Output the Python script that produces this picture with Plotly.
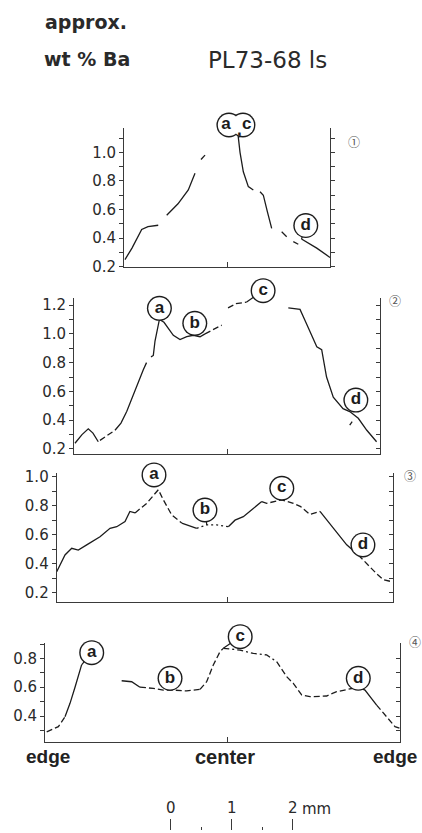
import plotly.graph_objects as go

# ------------------------------------------------------------------
# DATA
# x = distance along the traverse from the left edge (mm), y = approx. wt % Ba
# None separates pen segments of the traced profile
# ------------------------------------------------------------------
p1_x = [0.016, 0.131, 0.29, 0.393, 0.561, None,
        0.70, 0.885, 1.054, 1.164, None,
        1.262, 1.328, None,
        1.87, 1.902, 1.956, 2.038, 2.12, None,
        2.23, 2.284, 2.35, 2.421, None,
        2.585, 2.667, None,
        2.775, 2.857, None,
        2.91, 3.16, 3.377]
p1_y = [0.25, 0.33, 0.46, 0.48, 0.49, None,
        0.56, 0.64, 0.737, 0.853, None,
        0.95, 0.98, None,
        1.12, 1.0, 0.864, 0.76, 0.737, None,
        0.724, 0.70, 0.585, 0.468, None,
        0.445, 0.41, None,
        0.375, 0.357, None,
        0.394, 0.33, 0.265]

p2_x = [0.016, 0.131, 0.234, 0.311, 0.398, None,
        0.426, 0.557, 0.672, None,
        0.672, 0.77, 0.864, 0.918, 1.016, 1.136, 1.189, None,
        1.262, 1.30, 1.328, 1.366, 1.40, 1.475, 1.525, 1.628, 1.738, 1.848, 1.956, 2.066, 2.148, None,
        2.148, 2.284, 2.421, None,
        2.525, 2.656, 2.83, None,
        3.513, 3.705, 3.80, 3.90, 3.98, 4.06, 4.14, 4.25, 4.41, 4.52, 4.66, 4.80, 4.93, 4.96, None,
        4.52, 4.56]
p2_y = [0.24, 0.30, 0.34, 0.31, 0.25, None,
        0.26, 0.30, 0.33, None,
        0.33, 0.38, 0.46, 0.52, 0.63, 0.75, 0.80, None,
        0.84, 0.85, 0.95, 1.045, 1.10, 1.08, 1.05, 0.99, 0.96, 0.98, 0.99, 0.98, 1.0, None,
        1.0, 1.03, 1.06, None,
        1.18, 1.21, 1.22, None,
        1.18, 1.17, 1.08, 0.98, 0.91, 0.89, 0.70, 0.56, 0.48, 0.46, 0.413, 0.33, 0.26, 0.25, None,
        0.365, 0.39]

p3_x = [0.0, 0.136, 0.246, 0.354, 0.492, 0.71, 0.874, 0.984, 1.12, 1.20, 1.284, None,
        1.284, 1.475, 1.666, 1.748, 1.885, 2.05, None,
        2.05, 2.295, None,
        2.295, 2.459, 2.623, 2.813, None,
        2.813, 2.923, 3.059, 3.223, 3.361, None,
        3.361, 3.443, 3.689, 3.879, 4.0, 4.15, 4.316, None,
        4.316, 4.534, 4.754, 4.944, None,
        4.944, 5.082, 5.246, 5.354, 5.492]
p3_y = [0.345, 0.46, 0.506, 0.494, 0.53, 0.586, 0.644, 0.655, 0.69, 0.76, 0.75, None,
        0.75, 0.816, 0.91, 0.84, 0.736, 0.68, None,
        0.68, 0.644, None,
        0.644, 0.667, 0.667, 0.655, None,
        0.655, 0.70, 0.724, 0.78, 0.828, None,
        0.828, 0.816, 0.84, 0.816, 0.793, 0.74, 0.76, None,
        0.76, 0.645, 0.53, 0.46, None,
        0.46, 0.40, 0.33, 0.29, 0.276]

p4_x = [0.028, 0.219, 0.328, None,
        0.328, 0.41, 0.492, 0.574, 0.60, None,
        1.257, 1.421, 1.557, None,
        1.557, 1.776, 1.94, 2.104, 2.323, 2.541, None,
        2.541, 2.65, 2.759, 2.868, 2.923, None,
        2.923, 3.197, 3.415, 3.634, 3.798, None,
        3.798, 3.962, 4.071, 4.208, 4.344, 4.617, 4.781, 4.918, 5.136, None,
        5.136, 5.246, 5.437, None,
        5.437, 5.546, 5.738, 5.82]
p4_y = [0.29, 0.326, 0.395, None,
        0.395, 0.488, 0.60, 0.73, 0.755, None,
        0.645, 0.638, 0.60, None,
        0.60, 0.592, 0.58, 0.58, 0.574, 0.585, None,
        0.585, 0.638, 0.754, 0.846, 0.87, None,
        0.87, 0.858, 0.835, 0.824, 0.777, None,
        0.777, 0.673, 0.627, 0.546, 0.534, 0.539, 0.569, 0.58, 0.60, None,
        0.60, 0.58, 0.476, None,
        0.476, 0.419, 0.326, 0.315]

# zone labels (circled letters): circle centre, letter position, profile point referred to
p1_lab = ["a", "c", "d"]
p1_lab_x = [1.72, 1.95, 2.98]
p1_lab_y = [1.191, 1.191, 0.488]
p1_txt_x = [1.67, 2.01, 2.98]
p1_ref_x = [None, None, 2.91]
p1_ref_y = [None, None, 0.394]

p2_lab = ["a", "b", "c", "d"]
p2_lab_x = [1.40, 1.98, 3.10, 4.62]
p2_lab_y = [1.177, 1.073, 1.30, 0.54]
p2_txt_x = p2_lab_x
p2_ref_x = [None, None, 2.83, None]
p2_ref_y = [None, None, 1.222, None]

p3_lab = ["a", "b", "c", "d"]
p3_lab_x = [1.595, 2.43, 3.69, 5.02]
p3_lab_y = [1.012, 0.77, 0.92, 0.529]
p3_txt_x = p3_lab_x
p3_ref_x = [None, 2.46, None, None]
p3_ref_y = [None, 0.667, None, None]

p4_lab = ["a", "b", "c", "d"]
p4_lab_x = [0.766, 2.05, 3.20, 5.136]
p4_lab_y = [0.84, 0.662, 0.951, 0.662]
p4_txt_x = p4_lab_x
p4_ref_x = [0.60, None, 2.923, None]
p4_ref_y = [0.755, None, 0.87, None]

# y ticks (every 0.1, labelled every 0.2)
p1_yticks = [0.2, 0.3, 0.4, 0.5, 0.6, 0.7, 0.8, 0.9, 1.0, 1.1]
p1_ylabels = ["0.2", "", "0.4", "", "0.6", "", "0.8", "", "1.0", ""]
p2_yticks = [0.2, 0.3, 0.4, 0.5, 0.6, 0.7, 0.8, 0.9, 1.0, 1.1, 1.2]
p2_ylabels = ["0.2", "", "0.4", "", "0.6", "", "0.8", "", "1.0", "", "1.2"]
p3_yticks = [0.2, 0.3, 0.4, 0.5, 0.6, 0.7, 0.8, 0.9, 1.0]
p3_ylabels = ["0.2", "", "0.4", "", "0.6", "", "0.8", "", "1.0"]
p4_yticks = [0.3, 0.4, 0.5, 0.6, 0.7, 0.8, 0.9]
p4_ylabels = ["", "0.4", "", "0.6", "", "0.8", ""]

# traverse length (mm) and centre position of each grain section
traverse_mm = [3.377, 5.016, 5.508, 5.82]
center_mm = [1.70, 2.52, 2.80, 3.00]
panel_tags = ["\u2460", "\u2461", "\u2462", "\u2463"]

scale_ticks = [0, 1, 2]
scale_labels = ["0", "1", "2"]
scale_minor = [0.5, 1.5]

# ------------------------------------------------------------------
# STYLE / LAYOUT
# ------------------------------------------------------------------
W, H = 422, 833
INK = "#1c1c1c"
AX = "#3a3a3a"
FONT = "DejaVu Sans"
DASH = {"s": "solid", "d": "6px,3px", "o": "2px,3px", "dd": "6px,3px,2px,3px"}
p1_dash = ["s", "s", "s", "s", "s", "s", "s", "s"]
p2_dash = ["s", "d", "s", "s", "d", "d", "s", "s"]
p3_dash = ["s", "d", "s", "o", "s", "d", "s", "d"]
p4_dash = ["d", "s", "s", "d", "d", "dd", "d", "s", "d"]
CIRC = 25     # outer diameter of the label circles (px)
RING = 1.4    # ring thickness (px)

# pixel frames: left, right, top, bottom ; y range ; right-axis tick direction
frames = [
    (124, 330, 128, 267, [0.198, 1.17], "outside"),
    (74, 380, 298, 454.3, [0.163, 1.249], "inside"),
    (56.7, 392.7, 473.3, 601.7, [0.138, 1.023], "inside"),
    (45, 400, 643.3, 741.7, [0.2215, 0.905], "inside"),
]
EXTRA = 40  # px of head-room for the circled letters above each frame
tag_pos = [(354, 141.7), (395, 300), (410, 475), (415, 641.7)]

panels = [
    (p1_x, p1_y, p1_dash, p1_yticks, p1_ylabels, p1_lab, p1_lab_x, p1_lab_y, p1_txt_x, p1_ref_x, p1_ref_y),
    (p2_x, p2_y, p2_dash, p2_yticks, p2_ylabels, p2_lab, p2_lab_x, p2_lab_y, p2_txt_x, p2_ref_x, p2_ref_y),
    (p3_x, p3_y, p3_dash, p3_yticks, p3_ylabels, p3_lab, p3_lab_x, p3_lab_y, p3_txt_x, p3_ref_x, p3_ref_y),
    (p4_x, p4_y, p4_dash, p4_yticks, p4_ylabels, p4_lab, p4_lab_x, p4_lab_y, p4_txt_x, p4_ref_x, p4_ref_y),
]


def split(xs, ys):
    segs, cx, cy = [], [], []
    for a, b in zip(xs, ys):
        if a is None:
            segs.append((cx, cy))
            cx, cy = [], []
        else:
            cx.append(a)
            cy.append(b)
    if cx:
        segs.append((cx, cy))
    return segs


fig = go.Figure()
layout = {}
annotations = []
common = dict(showgrid=False, zeroline=False, fixedrange=True, automargin=False)
skip = dict(showlegend=False, hoverinfo="skip", cliponaxis=False)

for i, (pd, fr) in enumerate(zip(panels, frames), start=1):
    xs, ys, dashes, yt, yl, lab, lx, ly, tx, rx, ry = pd
    L, R, T, B, yr, rdir = fr
    xid = "x" if i == 1 else f"x{i}"
    yid = "y" if i == 1 else f"y{i}"
    xkey = "xaxis" if i == 1 else f"xaxis{i}"
    ykey = "yaxis" if i == 1 else f"yaxis{i}"
    rid = f"y{i + 4}"
    lid = f"y{i + 9}"

    # profile segments
    for (sx, sy), d in zip(split(xs, ys), dashes):
        fig.add_trace(go.Scatter(x=sx, y=sy, mode="lines", xaxis=xid, yaxis=yid,
                                 line=dict(color=INK, width=1.3, dash=DASH[d]), **skip))
    # empty trace so that the right-hand frame axis is drawn
    fig.add_trace(go.Scatter(x=[], y=[], xaxis=xid, yaxis=rid, showlegend=False, hoverinfo="skip"))

    # leader lines from circled letters to the profile
    lxs, lys = [], []
    for cx, cy, px_, py_ in zip(lx, ly, rx, ry):
        if px_ is not None:
            lxs += [cx, px_, None]
            lys += [cy, py_, None]
    if lxs:
        fig.add_trace(go.Scatter(x=lxs, y=lys, mode="lines", xaxis=xid, yaxis=lid,
                                 line=dict(color=INK, width=1.2), **skip))
    # circles: dark disc, then white disc (merged circles keep only their outer outline)
    fig.add_trace(go.Scatter(x=lx, y=ly, mode="markers", xaxis=xid, yaxis=lid,
                             marker=dict(symbol="circle", size=CIRC, color=INK, line=dict(width=0)),
                             **skip))
    fig.add_trace(go.Scatter(x=lx, y=ly, mode="markers", xaxis=xid, yaxis=lid,
                             marker=dict(symbol="circle", size=CIRC - 2 * RING, color="white",
                                         line=dict(width=0)), **skip))
    fig.add_trace(go.Scatter(x=tx, y=ly, mode="text", text=lab, xaxis=xid, yaxis=lid,
                             textposition="middle center",
                             textfont=dict(family="Liberation Sans", size=17, color=INK, weight="bold"),
                             **skip))

    layout[xkey] = dict(domain=[L / W, R / W], range=[0, traverse_mm[i - 1]], anchor=yid,
                        showline=True, linecolor=AX, linewidth=1, ticks="inside",
                        tickvals=[center_mm[i - 1]], ticklen=5, tickcolor=AX,
                        showticklabels=False, **common)
    layout[ykey] = dict(domain=[1 - B / H, 1 - T / H], range=yr, anchor=xid,
                        showline=True, linecolor=AX, linewidth=1, ticks="outside",
                        tickvals=yt, ticktext=yl, ticklen=4, tickcolor=AX,
                        tickfont=dict(family=FONT, size=15, color="#2a2a2a"), **common)
    layout[f"yaxis{i + 4}"] = dict(overlaying=yid, side="right", anchor=xid, range=yr,
                                   showline=True, linecolor=AX, linewidth=1, ticks=rdir,
                                   tickvals=yt, ticklen=4, tickcolor=AX, showticklabels=False,
                                   **common)
    # hidden axis with identical scale but extra head-room, carrying the circled letters
    span = yr[1] - yr[0]
    top_ext = yr[1] + span * EXTRA / (B - T)
    layout[f"yaxis{i + 9}"] = dict(domain=[1 - B / H, min(1.0, 1 - (T - EXTRA) / H)],
                                   range=[yr[0], top_ext], anchor=xid, visible=False, **common)

    tgx, tgy = tag_pos[i - 1]
    annotations.append(dict(text=panel_tags[i - 1], x=tgx / W, y=1 - tgy / H, xref="paper",
                            yref="paper", showarrow=False, xanchor="center", yanchor="middle",
                            font=dict(family="Noto Sans CJK JP", size=12, color="#555")))

# comma between the merged "a,c" circles of section 1
annotations.append(dict(text=",", x=1.895, y=1.16, xref="x", yref="y", showarrow=False,
                        font=dict(family="Liberation Sans", size=17, color=INK, weight="bold")))

# scale bar
fig.add_trace(go.Scatter(x=[], y=[], xaxis="x9", yaxis="y9", showlegend=False, hoverinfo="skip"))
layout["xaxis9"] = dict(domain=[170.7 / W, 292.7 / W], range=[0, 2], anchor="y9", side="top",
                        showline=False, ticks="outside", tickvals=scale_ticks, ticktext=scale_labels,
                        ticklen=11, tickcolor=AX, tickwidth=1,
                        tickfont=dict(family=FONT, size=15, color="#2a2a2a"),
                        minor=dict(tickvals=scale_minor, ticks="outside", ticklen=3, tickcolor=AX),
                        **common)
layout["yaxis9"] = dict(domain=[0, 0.002], anchor="x9", visible=False, **common)

texts = [
    ("approx.", 85.5, 22, dict(family=FONT, size=19, color="#2a2a2a", weight="bold")),
    ("wt % Ba", 86.5, 59, dict(family=FONT, size=19, color="#2a2a2a", weight="bold")),
    ("PL73-68 ls", 267, 60, dict(family=FONT, size=23, color="#2a2a2a")),
    ("edge", 47.5, 756.5, dict(family="Liberation Sans", size=19, color="#222", weight="bold")),
    ("center", 225, 756.5, dict(family="Liberation Sans", size=20, color="#222", weight="bold")),
    ("edge", 395, 756.5, dict(family="Liberation Sans", size=19, color="#222", weight="bold")),
    ("mm", 316, 809, dict(family=FONT, size=15, color="#2a2a2a")),
]
for t, px, py, f in texts:
    annotations.append(dict(text=t, x=px / W, y=1 - py / H, xref="paper", yref="paper",
                            showarrow=False, xanchor="center", yanchor="middle", font=f))

fig.update_layout(template="none", width=W, height=H, margin=dict(l=0, r=0, t=0, b=0, pad=0),
                  paper_bgcolor="white", plot_bgcolor="rgba(0,0,0,0)", showlegend=False,
                  annotations=annotations, **layout)

fig.write_html("out.html", config={"displayModeBar": False},
               post_script="document.body.style.margin='0';document.body.style.overflow='hidden';")
